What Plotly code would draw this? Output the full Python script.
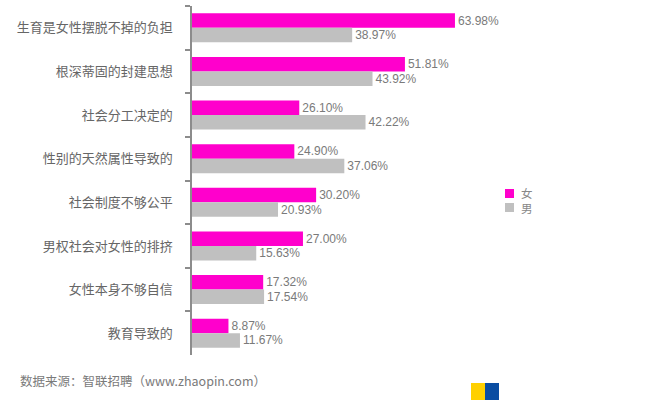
import plotly.graph_objects as go

categories = ["生育是女性摆脱不掉的负担", "根深蒂固的封建思想", "社会分工决定的", "性别的天然属性导致的",
              "社会制度不够公平", "男权社会对女性的排挤", "女性本身不够自信", "教育导致的"]
female = [63.98, 51.81, 26.10, 24.90, 30.20, 27.00, 17.32, 8.87]
male = [38.97, 43.92, 42.22, 37.06, 20.93, 15.63, 17.54, 11.67]
series_names = ["女", "男"]
source_text = "数据来源：智联招聘（www.zhaopin.com）"

W, H = 657, 406
L, R, T, B = 192, 157, 6, 51
pw, ph = W - L - R, H - T - B
COLORS = ["#FF00CC", "#C0C0C0"]

def px(x):
    return (x - L) / pw

def py(y):
    return (H - B - y) / ph

FONT = "Helvetica, Arial, 'Liberation Sans', 'Noto Sans CJK SC', sans-serif"
CJK = "'Noto Sans CJK SC', sans-serif"

fig = go.Figure()
for name, vals, col in [(series_names[0], female, COLORS[0]), (series_names[1], male, COLORS[1])]:
    fig.add_trace(go.Bar(
        y=categories, x=vals, name=name, orientation="h",
        marker=dict(color=col, line=dict(width=0)),
        text=[f"{v:.2f}%" for v in vals], textposition="outside",
        textfont=dict(color="#7a7a7a", size=12, family=FONT),
        cliponaxis=False, showlegend=False,
    ))

shapes = [
    dict(type="rect", xref="paper", yref="paper", x0=px(471), x1=px(485), y0=py(383), y1=py(400),
         fillcolor="#FFD000", line=dict(width=0)),
    dict(type="rect", xref="paper", yref="paper", x0=px(485), x1=px(499), y0=py(383), y1=py(400),
         fillcolor="#0A4DA2", line=dict(width=0)),
]
annotations = [dict(text=source_text, xref="paper", yref="paper", x=px(18), y=py(380),
                    xanchor="left", yanchor="middle", showarrow=False,
                    font=dict(family=CJK, size=12.5, color="#7a7a7a"))]
# legend built from series names / colours
for i, (name, col) in enumerate(zip(series_names, COLORS)):
    y0 = 189 + i * 14
    shapes.append(dict(type="rect", xref="paper", yref="paper", x0=px(505), x1=px(514),
                       y0=py(y0), y1=py(y0 + 9), fillcolor=col, line=dict(width=0)))
    annotations.append(dict(text=name, xref="paper", yref="paper", x=px(519), y=py(y0 + 4.5),
                            xanchor="left", yanchor="middle", showarrow=False,
                            font=dict(family=CJK, size=11.5, color="#888888")))

fig.update_layout(
    width=W, height=H,
    margin=dict(l=L, r=R, t=T, b=B, autoexpand=False),
    paper_bgcolor="white", plot_bgcolor="white",
    barmode="group", bargap=0.335, bargroupgap=0,
    font=dict(family=FONT, color="#666666", size=12),
    xaxis=dict(range=[0, pw / 4.11], visible=False, fixedrange=True),
    yaxis=dict(autorange="reversed", showline=True, linecolor="#8c8c8c", linewidth=1.5,
               ticks="outside", tickson="boundaries", ticklen=5, tickcolor="#8c8c8c", tickwidth=1.5,
               ticklabelstandoff=15,
               tickfont=dict(family=CJK, size=13, color="#666666"),
               showgrid=False, zeroline=False),
    showlegend=False,
    annotations=annotations,
    shapes=shapes,
)

fig.write_html("out.html", config={"displayModeBar": False},
               post_script="document.body.style.margin='0';document.body.style.padding='0';")
